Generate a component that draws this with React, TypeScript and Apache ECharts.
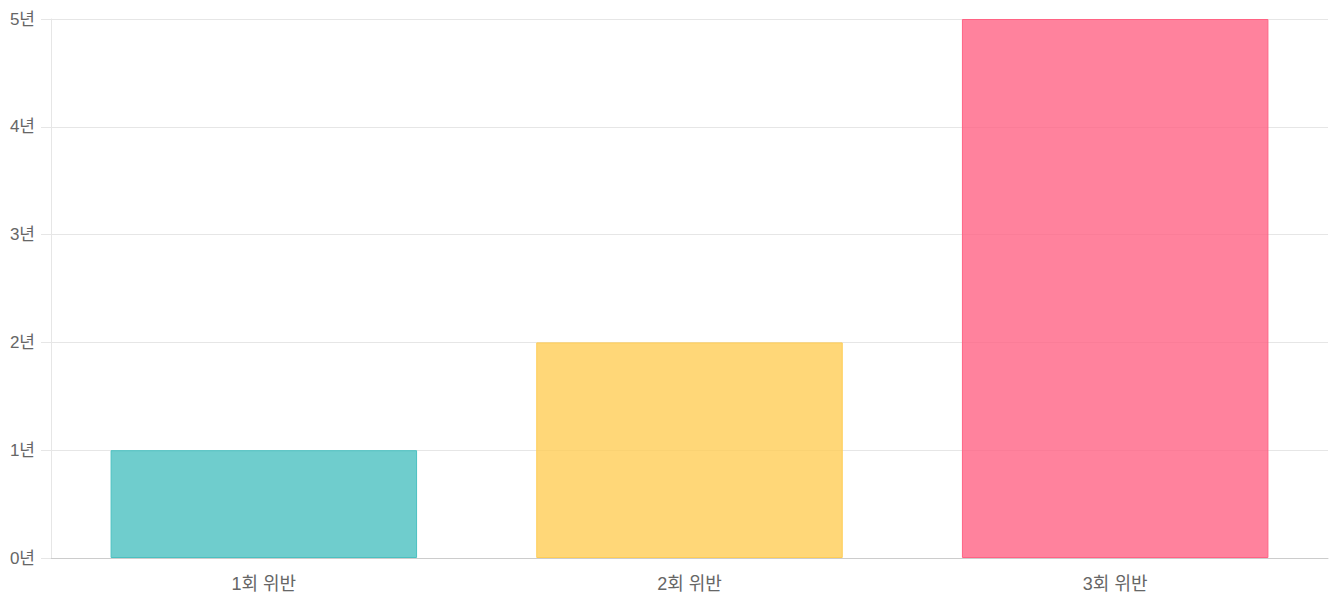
import React, { useEffect, useRef } from "react";
import * as echarts from "echarts";

const categories = ["1회 위반", "2회 위반", "3회 위반"];
const values = [1, 2, 5];
const fillColors = ["rgba(75,192,192,0.8)", "rgba(255,205,86,0.8)", "rgba(255,99,132,0.8)"];
const borderColors = ["rgb(75,192,192)", "rgb(255,205,86)", "rgb(255,99,132)"];
const yTicks = [0, 1, 2, 3, 4, 5];

const FONT = "'Liberation Sans', Arial, 'Noto Sans CJK KR', sans-serif";

export default function App() {
  const ref = useRef<HTMLDivElement>(null);
  useEffect(() => {
    if (!ref.current) return;
    const chart = echarts.init(ref.current, undefined, { renderer: "svg" });
    chart.setOption({
      animation: false,
      grid: { left: 51, right: 7, top: 19, bottom: 42, containLabel: false },
      xAxis: {
        type: "category",
        data: categories,
        axisLine: { show: true, lineStyle: { color: "#cccccc", width: 1 } },
        axisTick: { show: false },
        splitLine: { show: false },
        axisLabel: { color: "#666", fontSize: 18, fontFamily: FONT, margin: 17 },
      },
      yAxis: {
        type: "value",
        min: yTicks[0],
        max: yTicks[yTicks.length - 1],
        interval: 1,
        axisLine: { show: true, lineStyle: { color: "#e6e6e6" } },
        axisTick: { show: true, length: 10, lineStyle: { color: "#e6e6e6" } },
        splitLine: { show: true, lineStyle: { color: "#e6e6e6" } },
        axisLabel: {
          color: "#666",
          fontSize: 17,
          fontFamily: FONT,
          margin: 16,
          formatter: (v: number) => `${v}년`,
        },
      },
      series: [
        {
          type: "bar",
          barWidth: "72%",
          data: values.map((v, i) => ({
            value: v,
            itemStyle: { color: fillColors[i], borderColor: borderColors[i], borderWidth: 1 },
          })),
        },
      ],
    });
    return () => chart.dispose();
  }, []);
  return (
    <div
      ref={ref}
      style={{ position: "absolute", left: 0, top: 0, width: 1335, height: 600, background: "#fff" }}
    />
  );
}
